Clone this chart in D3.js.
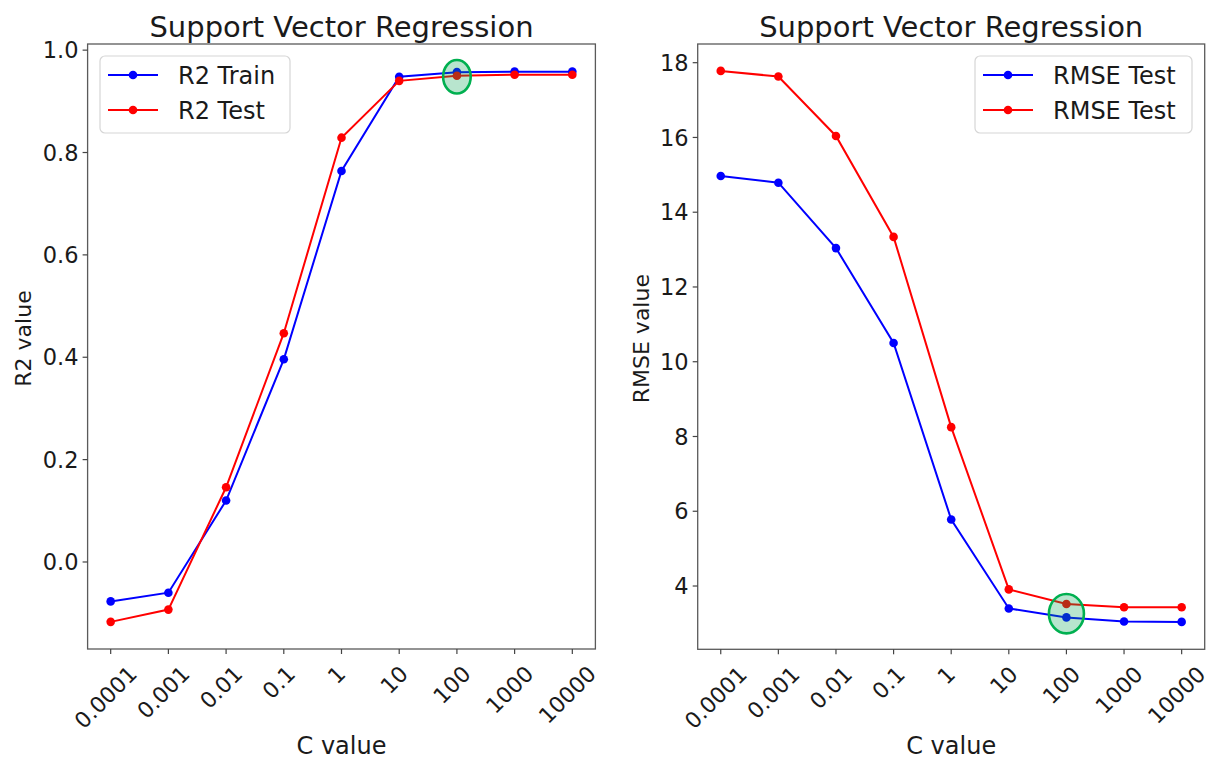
<!DOCTYPE html>
<html><head><meta charset="utf-8">
<script src="https://cdn.jsdelivr.net/npm/d3@7"></script>
<style>
body{margin:0;background:#fff}
svg{display:block}
text{font-family:"DejaVu Sans",sans-serif;fill:#1a1a1a}
</style>
</head><body>
<svg id="c" width="1210" height="760"></svg>
<script>
// ---- data ----
const cValues = ["0.0001","0.001","0.01","0.1","1","10","100","1000","10000"];
const r2Train = [-0.077,-0.060,0.120,0.396,0.764,0.948,0.957,0.958,0.958];
const r2Test  = [-0.117,-0.093,0.146,0.447,0.829,0.940,0.950,0.952,0.952];
const rmseTrain = [14.97,14.79,13.04,10.50,5.78,3.40,3.16,3.05,3.04];
const rmseTest  = [17.78,17.63,16.04,13.34,8.25,3.91,3.52,3.43,3.43];
const r2Ticks = [0.0,0.2,0.4,0.6,0.8,1.0];
const rmseTicks = [4,6,8,10,12,14,16,18];
const r2Legend = ["R2 Train","R2 Test"];
const rmseLegend = ["RMSE Test","RMSE Test"];
const highlightC = ["100","100"];
const highlightValue = [0.948, 3.26];
const titles = ["Support Vector Regression","Support Vector Regression"];
const yLabels = ["R2 value","RMSE value"];
const xLabel = "C value";

const svg = d3.select("#c");
const colors = ["#0000ff","#ff0000"];

const panels = [
  {x0:87.6, x1:595.4, y0:44, y1:649, dom:[-0.17,1.012], ticks:r2Ticks, fmt:d3.format(".1f"),
   series:[r2Train,r2Test], legend:r2Legend, title:titles[0], ylab:yLabels[0], ylabX:31,
   leg:{x:100,y:56,w:190,h:77,lx:108,tx:178}, hl:0, erx:13.8, ery:16.7},
  {x0:697.7, x1:1204.7, y0:44, y1:649.3, dom:[2.307,18.5], ticks:rmseTicks, fmt:d3.format("d"),
   series:[rmseTrain,rmseTest], legend:rmseLegend, title:titles[1], ylab:yLabels[1], ylabX:649,
   leg:{x:975,y:56,w:217,h:77,lx:983,tx:1053}, hl:1, erx:17.5, ery:19.7}
];

panels.forEach(p => {
  const g = svg.append("g");
  const x = d3.scalePoint().domain(cValues).range([p.x0,p.x1]).padding(0.4);
  const y = d3.scaleLinear().domain(p.dom).range([p.y1,p.y0]);

  // frame
  g.append("rect").attr("x",p.x0).attr("y",p.y0).attr("width",p.x1-p.x0).attr("height",p.y1-p.y0)
    .attr("fill","none").attr("stroke","#5a5a5a").attr("stroke-width",1.3);

  // x ticks
  cValues.forEach(c => {
    g.append("line").attr("x1",x(c)).attr("x2",x(c)).attr("y1",p.y1).attr("y2",p.y1+5)
      .attr("stroke","#444").attr("stroke-width",1.2);
  });
  const fs = 22, H = fs*1.164, ytop = p.y1 + 12;
  cValues.forEach(c => {
    const t = g.append("text").text(c).attr("font-size",fs).attr("text-anchor","middle").attr("dy","0.346em");
    const w = t.node().getComputedTextLength();
    const cy = ytop + (w + H)/(2*Math.SQRT2);
    t.attr("transform",`translate(${x(c)-5},${cy}) rotate(-45)`);
  });

  // y ticks
  p.ticks.forEach(v => {
    g.append("line").attr("x1",p.x0-5).attr("x2",p.x0).attr("y1",y(v)).attr("y2",y(v))
      .attr("stroke","#444").attr("stroke-width",1.2);
    g.append("text").text(p.fmt(v)).attr("font-size",22.5).attr("text-anchor","end")
      .attr("x",p.x0-9).attr("y",y(v)).attr("dy","0.36em");
  });

  // title
  g.append("text").text(p.title).attr("font-size",29).attr("text-anchor","middle")
    .attr("x",(p.x0+p.x1)/2).attr("y",37);
  // x label
  g.append("text").text(xLabel).attr("font-size",24).attr("text-anchor","middle")
    .attr("x",(p.x0+p.x1)/2).attr("y",754);
  // y label
  g.append("text").text(p.ylab).attr("font-size",22).attr("text-anchor","middle")
    .attr("transform",`translate(${p.ylabX},${(p.y0+p.y1)/2 - 8}) rotate(-90)`);

  // series
  const line = d3.line().x((d,i)=>x(cValues[i])).y(d=>y(d));
  p.series.forEach((s,k) => {
    g.append("path").datum(s).attr("d",line).attr("fill","none")
      .attr("stroke",colors[k]).attr("stroke-width",2);
    g.selectAll(null).data(s).enter().append("circle")
      .attr("cx",(d,i)=>x(cValues[i])).attr("cy",d=>y(d)).attr("r",4.3).attr("fill",colors[k]);
  });

  // highlight ellipse
  g.append("ellipse").attr("cx",x(highlightC[p.hl])).attr("cy",y(highlightValue[p.hl]))
    .attr("rx",p.erx).attr("ry",p.ery)
    .attr("fill","rgba(0,160,80,0.28)").attr("stroke","#00b050").attr("stroke-width",2.6);

  // legend
  const L = p.leg;
  g.append("rect").attr("x",L.x).attr("y",L.y).attr("width",L.w).attr("height",L.h).attr("rx",5)
    .attr("fill","rgba(255,255,255,0.85)").attr("stroke","#d6d6d6").attr("stroke-width",1.2);
  p.legend.forEach((lab,k) => {
    const cy = L.y + 19 + k*35;
    g.append("line").attr("x1",L.lx).attr("x2",L.lx+50).attr("y1",cy).attr("y2",cy)
      .attr("stroke",colors[k]).attr("stroke-width",2);
    g.append("circle").attr("cx",L.lx+25).attr("cy",cy).attr("r",4.3).attr("fill",colors[k]);
    g.append("text").text(lab).attr("font-size",24).attr("x",L.tx).attr("y",cy).attr("dy","0.36em");
  });
});
</script>
</body></html>
